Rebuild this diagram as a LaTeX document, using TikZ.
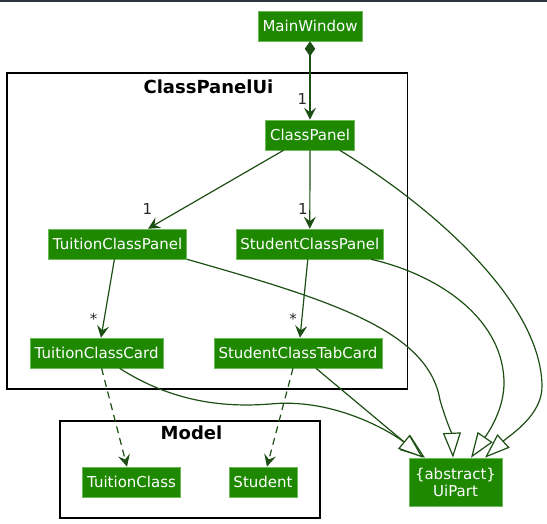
\documentclass[tikz,border=0pt]{standalone}
\usepackage{fontspec}
\setmainfont{DejaVu Sans}
\usetikzlibrary{arrows.meta}

\definecolor{clsgreen}{HTML}{1E8800}
\definecolor{clsedge}{HTML}{6DBA5A}
\definecolor{linkgreen}{HTML}{1D4F14}
\definecolor{topbar}{HTML}{2D343E}

\tikzset{
  cls/.style={fill=clsgreen, draw=clsedge, line width=0.6pt, text=white,
    font=\fontsize{15pt}{17pt}\selectfont, inner xsep=4.5pt, inner ysep=0pt, minimum height=30pt},
  frame/.style={draw=black, line width=1.8pt, inner sep=0pt},
  frametitle/.style={font=\fontsize{18pt}{20pt}\selectfont\bfseries, inner sep=0pt},
  mult/.style={font=\fontsize{15pt}{17pt}\selectfont, text=black!85, anchor=base, inner sep=0pt},
  assoc/.style={draw=linkgreen, line width=1.2pt, -{Stealth[length=12pt,width=12pt,inset=4.5pt]}},
  dep/.style={assoc, dash pattern=on 7pt off 5pt},
  gen/.style={draw=linkgreen, line width=1.2pt, -{Triangle[open, length=25pt, width=18pt, fill=white]}},
  comp/.style={assoc, {Diamond[length=15pt,width=10.5pt]}-{Stealth[length=12pt,width=12pt,inset=4.5pt]}}
}

\begin{document}
\begin{tikzpicture}[x=1pt,y=-1pt]
\useasboundingbox (0,0) rectangle (547,523);
\fill[topbar] (0,0) rectangle (547,1.5);

% packages
\node[frame, minimum width=400.5pt, minimum height=316pt] (uiframe) at (207.25,231.3) {};
\node[frametitle] (uititle) at ([xshift=1.2pt,yshift=-14pt]uiframe.north) {ClassPanelUi};
\node[frame, minimum width=260pt, minimum height=97.3pt] (modelframe) at (190,469.35) {};
\node[frametitle] (modeltitle) at ([xshift=1.5pt,yshift=-12.6pt]modelframe.north) {Model};

% classes
\node[cls] (mainwindow) at (310,26) {MainWindow};
\node[cls] (classpanel) at (310,135) {ClassPanel};
\node[cls] (tuitionpanel) at (117.6,244) {TuitionClassPanel};
\node[cls] (studentpanel) at (309.8,244) {StudentClassPanel};
\node[cls] (tuitioncard) at (96.6,353) {TuitionClassCard};
\node[cls] (studentcard) at (298,353) {StudentClassTabCard};
\node[cls] (tuitionclass) at (131.5,482) {TuitionClass};
\node[cls] (student) at (263,482) {Student};
\node[cls, align=center, minimum height=48pt, minimum width=93pt] (uipart) at (455.5,482) {\{abstract\}\\UiPart};

% associations
\draw[comp] (mainwindow.south) -- (classpanel.north);
\draw[assoc] ([xshift=-26.5pt]classpanel.south) -- ([xshift=30.4pt]tuitionpanel.north);
\draw[assoc] (classpanel.south) -- (studentpanel.north);
\draw[assoc] ([xshift=-3.2pt]tuitionpanel.south) -- ([xshift=4.4pt]tuitioncard.north);
\draw[assoc] ([xshift=-2pt]studentpanel.south) -- ([xshift=2pt]studentcard.north);

% multiplicities
\node[mult] (m1) at (302.5,104) {1};
\node[mult] (m2) at (147.5,214) {1};
\node[mult] (m3) at (303,214) {1};
\node[mult] (m4) at (93.5,324.5) {*};
\node[mult] (m5) at (293,324.5) {*};

% dependencies
\draw[dep] ([xshift=5pt]tuitioncard.south) -- ([xshift=-4.5pt]tuitionclass.north);
\draw[dep] ([xshift=-5pt]studentcard.south) -- ([xshift=4pt]student.north);

% generalisations
\draw[gen] ([xshift=23pt]tuitioncard.south) .. controls +(50,32) and +(-50,4) .. (270,404)
  .. controls +(60,-6) and +(-40,-30) .. ([xshift=-30.5pt]uipart.north);
\draw[gen] ([xshift=18pt]studentcard.south) -- ([xshift=-32.5pt]uipart.north);
\draw[gen] (tuitionpanel.south east) .. controls (330,300) and (428,330) .. (440,400)
  .. controls (445,417.5) and (452,435) .. ([xshift=-2.5pt]uipart.north);
\draw[gen] ([xshift=-13pt]studentpanel.south east) .. controls (440,275) and (505,320) .. (504,385)
  .. controls (503,410) and (490,430) .. ([xshift=15.5pt]uipart.north);
\draw[gen] ([xshift=-15pt]classpanel.south east) .. controls (430,205) and (540,300) .. (542,385)
  .. controls (543,415) and (510,435) .. ([xshift=29.5pt]uipart.north);

\end{tikzpicture}
\end{document}
